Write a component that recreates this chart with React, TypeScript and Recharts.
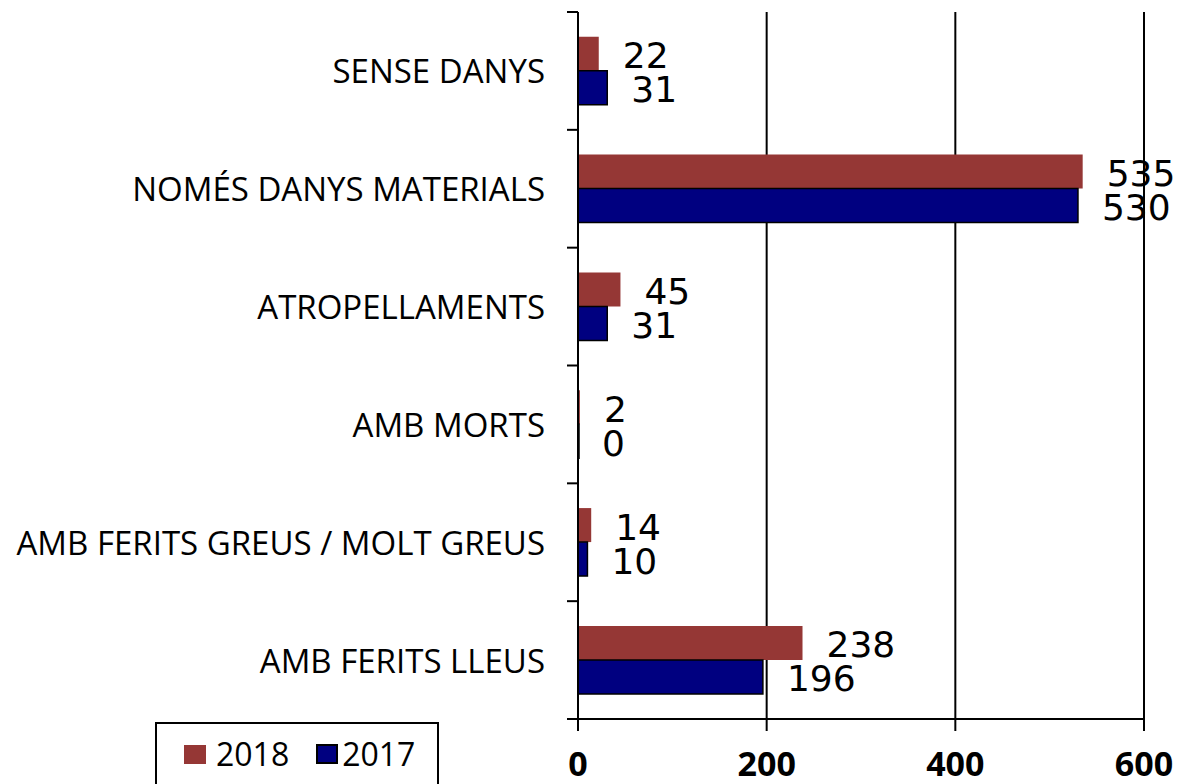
import React from 'react';
import { BarChart, Bar, XAxis, YAxis, CartesianGrid, Legend, LabelList } from 'recharts';

const categories = [
  'SENSE DANYS',
  'NOMÉS DANYS MATERIALS',
  'ATROPELLAMENTS',
  'AMB MORTS',
  'AMB FERITS GREUS / MOLT GREUS',
  'AMB FERITS LLEUS',
];
const values2018 = [22, 535, 45, 2, 14, 238];
const values2017 = [31, 530, 31, 0, 10, 196];
const xTicks = [0, 200, 400, 600];
const legendOrder = ['2018', '2017'];

const data = categories.map((name, i) => ({ name, y2018: values2018[i], y2017: values2017[i] }));

const COLOR_2018 = '#953735';
const COLOR_2017 = '#000080';
const TICK_MARGIN = 33;

const CategoryTick = (props: any) => {
  const { x, y, payload, index, visibleTicksCount } = props;
  const off = payload && typeof payload.offset === 'number' ? payload.offset : 0;
  const axisX = x + TICK_MARGIN;
  const isLast = index === visibleTicksCount - 1;
  return (
    <g>
      <text
        x={x}
        y={y}
        textAnchor="end"
        dominantBaseline="central"
        style={{ fontFamily: 'Open Sans', fontSize: 33, fill: '#000' }}
      >
        {payload.value}
      </text>
      <line x1={axisX - 11} x2={axisX} y1={y - off} y2={y - off} stroke="#000" strokeWidth={2} />
      {isLast && (
        <line x1={axisX - 11} x2={axisX} y1={y + off} y2={y + off} stroke="#000" strokeWidth={2} />
      )}
    </g>
  );
};

const ValueLabel = (props: any) => {
  const { x, y, width, height, value } = props;
  const w = value === 0 ? 0 : width;
  return (
    <text
      x={x + w + 24}
      y={y + height / 2 + 2}
      textAnchor="start"
      dominantBaseline="central"
      style={{ fontFamily: 'DejaVu Sans', fontSize: 36, fill: '#000' }}
    >
      {value}
    </text>
  );
};

const LegendContent = (props: any) => {
  const { payload = [] } = props;
  const items = [...payload].sort(
    (a: any, b: any) => legendOrder.indexOf(String(a.value)) - legendOrder.indexOf(String(b.value))
  );
  return (
    <div
      style={{
        position: 'absolute',
        left: 155,
        top: 722,
        width: 284,
        height: 70,
        border: '2px solid #000',
        background: '#fff',
        boxSizing: 'border-box',
        display: 'flex',
        alignItems: 'flex-start',
        paddingLeft: 27,
        paddingTop: 14,
      }}
    >
      {items.map((p: any, i: number) => {
        const is2017 = String(p.value) === '2017';
        return (
          <div key={i} style={{ display: 'flex', alignItems: 'center', marginRight: i === 0 ? 27 : 0 }}>
            <div
              style={{
                width: is2017 ? 18 : 22,
                height: is2017 ? 16 : 19,
                background: p.color,
                border: is2017 ? '2px solid #000' : 'none',
                marginRight: is2017 ? 4 : 10,
              }}
            />
            <span style={{ fontFamily: 'Open Sans', fontSize: 32, color: '#000', lineHeight: 1 }}>{p.value}</span>
          </div>
        );
      })}
    </div>
  );
};

export default function App() {
  return (
    <div style={{ position: 'absolute', left: 0, top: 0, width: 1180, height: 784, background: '#fff' }}>
      <BarChart
        width={1180}
        height={784}
        data={data}
        layout="vertical"
        margin={{ top: 12, right: 36, bottom: 0, left: 0 }}
        barCategoryGap="21%"
        barGap={0}
      >
        <CartesianGrid horizontal={false} stroke="#000" strokeWidth={2} />
        <XAxis
          type="number"
          domain={[0, 600]}
          ticks={xTicks}
          height={65}
          axisLine={{ stroke: '#000', strokeWidth: 2 }}
          tickLine={{ stroke: '#000', strokeWidth: 2 }}
          tickSize={12}
          tickMargin={21}
          tick={{ fontFamily: 'Open Sans', fontWeight: 700, fontSize: 34, fill: '#000' }}
        />
        <XAxis
          xAxisId="top"
          orientation="top"
          type="number"
          domain={[0, 600]}
          height={0}
          tick={false}
          tickLine={false}
          axisLine={{ stroke: '#000', strokeWidth: 2 }}
        />
        <YAxis
          type="category"
          dataKey="name"
          width={578}
          axisLine={{ stroke: '#000', strokeWidth: 2 }}
          tickLine={false}
          tickSize={0}
          tickMargin={TICK_MARGIN}
          tick={<CategoryTick />}
          interval={0}
        />
        <Bar dataKey="y2018" name="2018" fill={COLOR_2018} isAnimationActive={false}>
          <LabelList dataKey="y2018" content={<ValueLabel />} />
        </Bar>
        <Bar
          dataKey="y2017"
          name="2017"
          fill={COLOR_2017}
          stroke="#000"
          strokeWidth={1.5}
          minPointSize={1}
          isAnimationActive={false}
        >
          <LabelList dataKey="y2017" content={<ValueLabel />} />
        </Bar>
        <Legend
          layout="horizontal"
          verticalAlign="middle"
          align="center"
          content={<LegendContent />}
          wrapperStyle={{ position: 'absolute', left: 0, top: 0, width: 0, height: 0 }}
        />
      </BarChart>
    </div>
  );
}
